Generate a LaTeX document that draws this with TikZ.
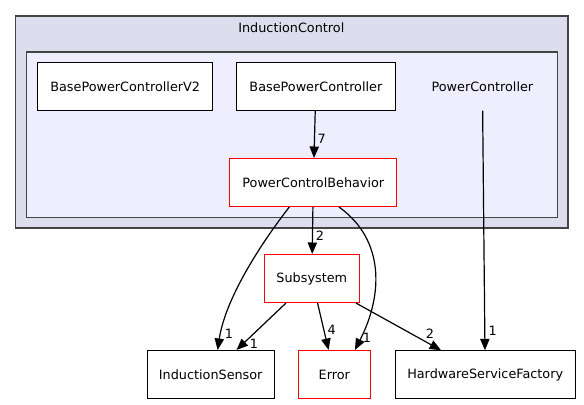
\documentclass[tikz,border=0pt]{standalone}
\usepackage{fontspec}
\setmainfont{DejaVu Sans}
\usetikzlibrary{arrows.meta}
\definecolor{outerfill}{HTML}{DDDDEE}
\definecolor{innerfill}{HTML}{EEEEFF}
\definecolor{clborder}{HTML}{444444}
\begin{document}
\begin{tikzpicture}[x=0.75pt,y=-0.75pt,
  font=\fontsize{9.6pt}{11pt}\selectfont,
  box/.style={draw=black,fill=white,line width=0.8pt,inner sep=0pt,minimum height=36pt},
  redbox/.style={box,draw=red},
  edge/.style={line width=0.9pt,-{Triangle[length=8.6pt,width=7pt]}},
  lbl/.style={inner sep=0pt}]
\useasboundingbox (0,0) rectangle (584,404);
% clusters
\draw[fill=outerfill,draw=clborder,line width=1.3pt] (15.6,15.7) rectangle (568,228);
\node[lbl] (title) at (291.3,27.3) {InductionControl};
\draw[fill=innerfill,draw=clborder,line width=1pt] (26.4,52) rectangle (557.3,217.3);
% nodes
\node[box,minimum width=131.3pt] (bpcv2) at (125.2,86.3) {BasePowerControllerV2};
\node[box,minimum width=119pt] (bpc) at (315.9,86.3) {BasePowerController};
\node[inner sep=0pt,minimum height=36pt,minimum width=60pt] (pc) at (482.4,86.3) {PowerController};
\node[redbox,minimum width=125.2pt] (pcb) at (313.3,182.5) {PowerControlBehavior};
\node[redbox,minimum width=71.2pt] (sub) at (311.8,278.5) {Subsystem};
\node[box,minimum width=95pt] (is) at (210.7,374.5) {InductionSensor};
\node[redbox,minimum width=54pt] (err) at (334.3,374.5) {Error};
\node[box,minimum width=135.2pt] (hsf) at (485.2,374.8) {HardwareServiceFactory};
% edges
\draw[edge] (bpc) -- (pcb);
\draw[edge] (pcb) -- (sub);
\draw[edge] (pc) -- (hsf);
\draw[edge] (sub) -- (is);
\draw[edge] (sub) -- (err);
\draw[edge] (sub) -- (hsf);
\draw[edge] ([xshift=-18pt]pcb.south) .. controls (259,246) and (225,300) .. ([xshift=5.2pt]is.north);
\draw[edge] ([xshift=19.3pt]pcb.south) .. controls (385,240) and (383,295) .. ([xshift=15.5pt]err.north);
% labels
\node[lbl] (l7) at (321.8,139.3) {7};
\node[lbl] (l2a) at (320,235.7) {2};
\node[lbl] (l1a) at (229,334.3) {1};
\node[lbl] (l1b) at (254,343.7) {1};
\node[lbl] (l4) at (331.7,330) {4};
\node[lbl] (l1c) at (367,337.7) {1};
\node[lbl] (l2b) at (430,334) {2};
\node[lbl] (l1d) at (492.7,331) {1};
\end{tikzpicture}
\end{document}
